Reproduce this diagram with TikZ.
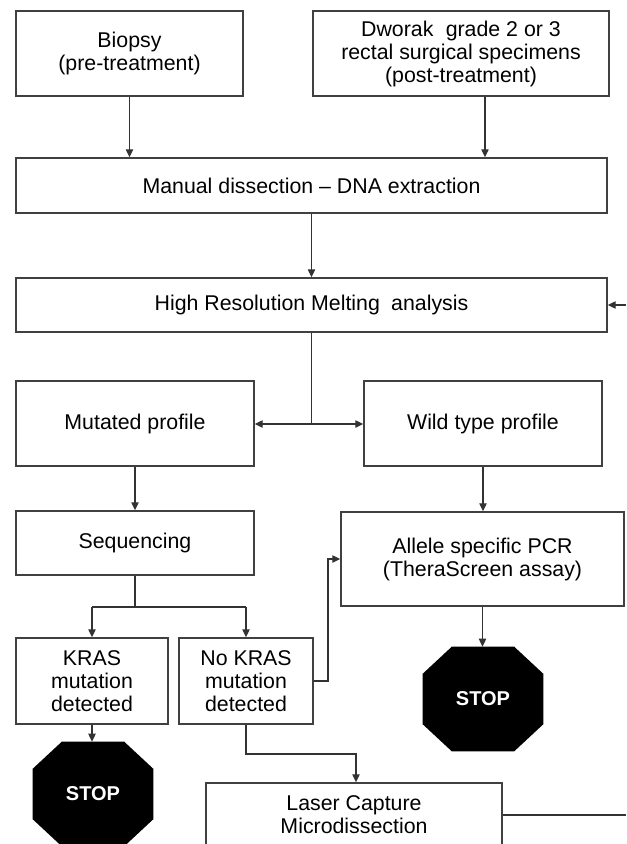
\documentclass[tikz,border=0pt]{standalone}
\usepackage{fontspec}
\setmainfont{Liberation Sans}
\usetikzlibrary{calc,arrows.meta}
\begin{document}
\begin{tikzpicture}[x=0.75pt,y=-0.75pt,
  box/.style={draw=black!75,line width=1.1pt,fill=white,inner sep=2pt,align=center,
    font=\fontsize{16}{17.25}\selectfont},
  arr/.style={draw=black!80,line width=0.95pt,-{Triangle[length=6pt,width=5.5pt]}},
  ln/.style={draw=black!80,line width=0.95pt},
  stopbox/.style={inner sep=0pt,minimum width=90pt,minimum height=78pt,
    text=white,font=\fontsize{15}{17}\selectfont\bfseries}]
\useasboundingbox (0,0) rectangle (626,844);
\clip (0,0) rectangle (626,844);
\fill[white] (0,0) rectangle (626,844);

\node[box,minimum width=170.25pt,minimum height=63.75pt] (bio) at (129.5,53.5) {Biopsy\\(pre-treatment)};
\node[box,minimum width=222pt,minimum height=63.75pt] (dwo) at (461,53.5) {Dworak\hspace{0.3em} grade 2 or 3\\rectal surgical specimens\\(post-treatment)};
\node[box,minimum width=443.25pt,minimum height=41.25pt] (man) at (311.5,185.5) {Manual dissection -- DNA extraction};
\node[box,minimum width=443.25pt,minimum height=40.5pt] (hrm) at (311.5,305) {High Resolution Melting\hspace{0.25em} analysis};
\node[box,minimum width=178.5pt,minimum height=63.75pt] (mut) at (135,423.5) {Mutated profile};
\node[box,minimum width=178.5pt,minimum height=63.75pt] (wild) at (483,423.5) {Wild type profile};
\node[box,minimum width=178.5pt,minimum height=48pt] (seq) at (135,543) {Sequencing};
\node[box,minimum width=212.25pt,minimum height=70.5pt] (allele) at (482.5,559) {Allele specific PCR\\(TheraScreen assay)};
\node[box,minimum width=114pt,minimum height=64.5pt] (kras) at (92,681) {KRAS\\mutation\\detected};
\node[box,minimum width=100.5pt,minimum height=64.5pt] (nokras) at (246,681) {No KRAS\\mutation\\detected};
\node[box,minimum width=222pt,minimum height=48pt] (laser) at (354,815) {Laser Capture\\Microdissection};

\node[stopbox] (stopa) at (93,794) {};
\node[stopbox] (stopb) at (483,699) {};
\foreach \s in {stopa,stopb}{
  \fill[black] ($(\s.north west)+(29,0)$) -- ($(\s.north east)+(-29,0)$) -- ($(\s.north east)+(0,27)$)
    -- ($(\s.south east)+(0,-27)$) -- ($(\s.south east)+(-29,0)$) -- ($(\s.south west)+(29,0)$)
    -- ($(\s.south west)+(0,-27)$) -- ($(\s.north west)+(0,27)$) -- cycle;
}
\node[stopbox] at (stopa) {STOP};
\node[stopbox] at (stopb) {STOP};

\coordinate (feed) at (626,305);
\coordinate (split) at (311.5,424);
\coordinate (sj) at (135,607);
\coordinate (sl) at (92,607);
\coordinate (sr) at (246,607);
\coordinate (nk1) at (328,681);
\coordinate (nk2) at (328,559);
\coordinate (lb1) at (246,754);
\coordinate (lb2) at (356,754);
\coordinate (lout) at (626,815);

\draw[arr] (bio.south) -- (bio.south |- man.north);
\draw[arr] ([xshift=18pt]dwo.south) -- ([xshift=18pt]dwo.south |- man.north);
\draw[arr] (man.south) -- (hrm.north);
\draw[arr] (feed) -- (hrm.east);
\draw[ln] (hrm.south) -- (split);
\draw[arr] (split) -- (split -| mut.east);
\draw[arr] (split) -- (split -| wild.west);
\draw[arr] (mut.south) -- (mut.south |- seq.north);
\draw[arr] (wild.south) -- (wild.south |- allele.north);
\draw[ln] (seq.south) -- (sj);
\draw[ln] (sl) -- (sr);
\draw[arr] (sl) -- (kras.north);
\draw[arr] (sr) -- (nokras.north);
\draw[arr] (nokras.east) -- (nk1) -- (nk2) -- (allele.west);
\draw[arr] (allele.south) -- (allele.south |- stopb.north);
\draw[arr] (kras.south) -- (kras.south |- stopa.north);
\draw[arr] (nokras.south) -- (lb1) -- (lb2) -- (lb2 |- laser.north);
\draw[ln] (laser.east) -- (lout);
\end{tikzpicture}
\end{document}
